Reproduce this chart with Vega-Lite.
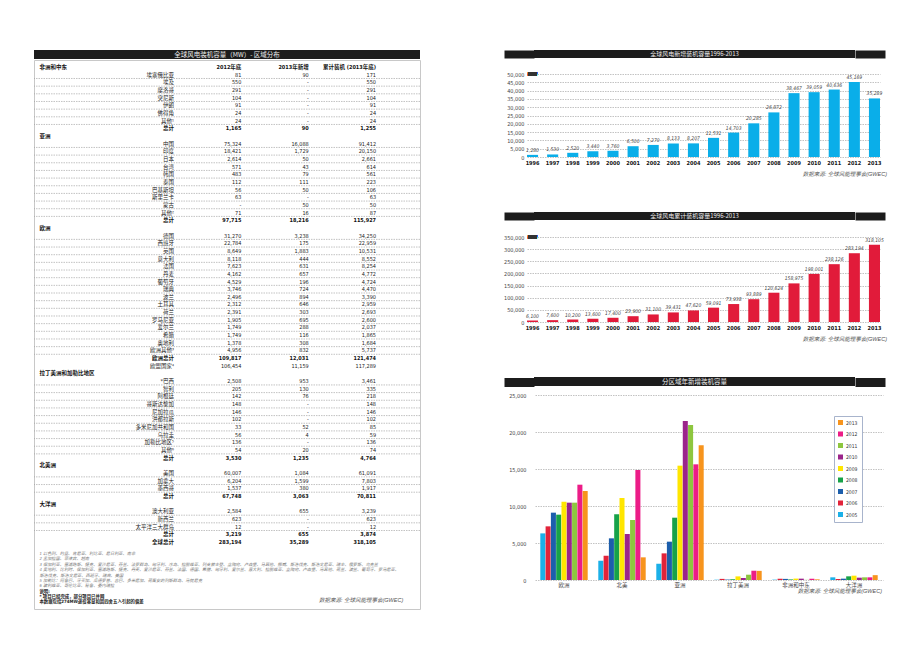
{
  "$schema": "https://vega.github.io/schema/vega-lite/v6.json",
  "padding": {"left": 33, "top": 48, "right": 5, "bottom": 5},
  "background": "#ffffff",
  "config": {
    "view": {"stroke": null},
    "font": "Liberation Sans Narrow, DejaVu Sans Condensed, Liberation Sans, Noto Sans CJK SC, sans-serif",
    "axis": {"labelFont": "Liberation Sans Narrow, DejaVu Sans Condensed, Liberation Sans, Noto Sans CJK SC, sans-serif"},
    "legend": {"labelFont": "Liberation Sans Narrow, DejaVu Sans Condensed, Liberation Sans, Noto Sans CJK SC, sans-serif"},
    "title": {"font": "Liberation Sans Narrow, Liberation Sans, Noto Sans CJK SC, sans-serif"}
  },
  "spacing": 78,
  "hconcat": [
    {
      "spacing": 0,
      "vconcat": [
        {
          "width": 386, "height": 9,
          "view": {"fill": "#1c1c1c", "stroke": null},
          "data": {"values": [{"t": "全球风电装机容量（MW）- 区域分布", "m": 0.5}]},
          "mark": {"type": "text", "color": "#ececec", "fontSize": 6.5, "font": "Noto Sans CJK SC"},
          "encoding": {
            "text": {"field": "t", "type": "nominal"},
            "x": {"field": "m", "type": "quantitative", "scale": {"domain": [0, 1]}, "axis": null},
            "y": {"field": "m", "type": "quantitative", "scale": {"domain": [0, 1]}, "axis": null}
          }
        },
        {
          "width": 386, "height": 549,
          "view": {"stroke": "#c8c8c8", "strokeWidth": 1},
          "title": {"text": "数据来源: 全球风能理事会(GWEC)", "orient": "bottom", "anchor": "end", "baseline": "middle", "offset": -9.5, "dx": -17, "fontSize": 5.5, "fontStyle": "italic", "fontWeight": "normal", "color": "#555555"},
          "layer": [
            {
              "data": {"values": [
                {"r": 1, "k": "h", "a": "2012年底", "b": "2013年新增", "v": "累计装机 (2013年底)"},
                {"r": 1, "k": "g", "g": "非洲和中东"},
                {"r": 2, "k": "c", "n": "埃塞俄比亚", "a": "81", "b": "90", "v": "171"},
                {"r": 3, "k": "c", "n": "埃及", "a": "550", "b": "-", "v": "550"},
                {"r": 4, "k": "c", "n": "摩洛哥", "a": "291", "b": "-", "v": "291"},
                {"r": 5, "k": "c", "n": "突尼斯", "a": "104", "b": "-", "v": "104"},
                {"r": 6, "k": "c", "n": "伊朗", "a": "91", "b": "-", "v": "91"},
                {"r": 7, "k": "c", "n": "佛得角", "a": "24", "b": "-", "v": "24"},
                {"r": 8, "k": "c", "n": "其他¹", "a": "24", "b": "-", "v": "24"},
                {"r": 9, "k": "t", "n": "总计", "a": "1,165", "b": "90", "v": "1,255"},
                {"r": 10, "k": "g", "g": "亚洲"},
                {"r": 11, "k": "c", "n": "中国", "a": "75,324", "b": "16,088", "v": "91,412"},
                {"r": 12, "k": "c", "n": "印度", "a": "18,421", "b": "1,729", "v": "20,150"},
                {"r": 13, "k": "c", "n": "日本", "a": "2,614", "b": "50", "v": "2,661"},
                {"r": 14, "k": "c", "n": "台湾", "a": "571", "b": "43", "v": "614"},
                {"r": 15, "k": "c", "n": "韩国", "a": "483", "b": "79", "v": "561"},
                {"r": 16, "k": "c", "n": "泰国", "a": "112", "b": "111", "v": "223"},
                {"r": 17, "k": "c", "n": "巴基斯坦", "a": "56", "b": "50", "v": "106"},
                {"r": 18, "k": "c", "n": "斯里兰卡", "a": "63", "b": "-", "v": "63"},
                {"r": 19, "k": "c", "n": "蒙古", "a": "-", "b": "50", "v": "50"},
                {"r": 20, "k": "c", "n": "其他²", "a": "71", "b": "16", "v": "87"},
                {"r": 21, "k": "t", "n": "总计", "a": "97,715", "b": "18,216", "v": "115,927"},
                {"r": 22, "k": "g", "g": "欧洲"},
                {"r": 23, "k": "c", "n": "德国", "a": "31,270", "b": "3,238", "v": "34,250"},
                {"r": 24, "k": "c", "n": "西班牙", "a": "22,784", "b": "175", "v": "22,959"},
                {"r": 25, "k": "c", "n": "英国", "a": "8,649", "b": "1,883", "v": "10,531"},
                {"r": 26, "k": "c", "n": "意大利", "a": "8,118", "b": "444", "v": "8,552"},
                {"r": 27, "k": "c", "n": "法国", "a": "7,623", "b": "631", "v": "8,254"},
                {"r": 28, "k": "c", "n": "丹麦", "a": "4,162", "b": "657", "v": "4,772"},
                {"r": 29, "k": "c", "n": "葡萄牙", "a": "4,529", "b": "196", "v": "4,724"},
                {"r": 30, "k": "c", "n": "瑞典", "a": "3,746", "b": "724", "v": "4,470"},
                {"r": 31, "k": "c", "n": "波兰", "a": "2,496", "b": "894", "v": "3,390"},
                {"r": 32, "k": "c", "n": "土耳其", "a": "2,312", "b": "646", "v": "2,959"},
                {"r": 33, "k": "c", "n": "荷兰", "a": "2,391", "b": "303", "v": "2,693"},
                {"r": 34, "k": "c", "n": "罗马尼亚", "a": "1,905", "b": "695", "v": "2,600"},
                {"r": 35, "k": "c", "n": "爱尔兰", "a": "1,749", "b": "288", "v": "2,037"},
                {"r": 36, "k": "c", "n": "希腊", "a": "1,749", "b": "116", "v": "1,865"},
                {"r": 37, "k": "c", "n": "奥地利", "a": "1,378", "b": "308", "v": "1,684"},
                {"r": 38, "k": "c", "n": "欧洲其他³", "a": "4,956", "b": "832", "v": "5,737"},
                {"r": 39, "k": "t", "n": "欧洲总计", "a": "109,817", "b": "12,031", "v": "121,474"},
                {"r": 40, "k": "e", "n": "欧盟国家⁴", "a": "106,454", "b": "11,159", "v": "117,289"},
                {"r": 41, "k": "g", "g": "拉丁美洲和加勒比地区"},
                {"r": 42, "k": "c", "n": "*巴西", "a": "2,508", "b": "953", "v": "3,461"},
                {"r": 43, "k": "c", "n": "智利", "a": "205", "b": "130", "v": "335"},
                {"r": 44, "k": "c", "n": "阿根廷", "a": "142", "b": "76", "v": "218"},
                {"r": 45, "k": "c", "n": "哥斯达黎加", "a": "148", "b": "-", "v": "148"},
                {"r": 46, "k": "c", "n": "尼加拉瓜", "a": "146", "b": "-", "v": "146"},
                {"r": 47, "k": "c", "n": "洪都拉斯", "a": "102", "b": "-", "v": "102"},
                {"r": 48, "k": "c", "n": "多米尼加共和国", "a": "33", "b": "52", "v": "85"},
                {"r": 49, "k": "c", "n": "乌拉圭", "a": "56", "b": "4", "v": "59"},
                {"r": 50, "k": "c", "n": "加勒比地区⁵", "a": "136", "b": "-", "v": "136"},
                {"r": 51, "k": "c", "n": "其他⁶", "a": "54", "b": "20", "v": "74"},
                {"r": 52, "k": "t", "n": "总计", "a": "3,530", "b": "1,235", "v": "4,764"},
                {"r": 53, "k": "g", "g": "北美洲"},
                {"r": 54, "k": "c", "n": "美国", "a": "60,007", "b": "1,084", "v": "61,091"},
                {"r": 55, "k": "c", "n": "加拿大", "a": "6,204", "b": "1,599", "v": "7,803"},
                {"r": 56, "k": "c", "n": "墨西哥", "a": "1,537", "b": "380", "v": "1,917"},
                {"r": 57, "k": "t", "n": "总计", "a": "67,748", "b": "3,063", "v": "70,811"},
                {"r": 58, "k": "g", "g": "大洋洲"},
                {"r": 59, "k": "c", "n": "澳大利亚", "a": "2,584", "b": "655", "v": "3,239"},
                {"r": 60, "k": "c", "n": "新西兰", "a": "623", "b": "-", "v": "623"},
                {"r": 61, "k": "c", "n": "太平洋三大群岛", "a": "12", "b": "-", "v": "12"},
                {"r": 62, "k": "t", "n": "总计", "a": "3,219", "b": "655", "v": "3,874"},
                {"r": 63, "k": "t", "n": "全球总计", "a": "283,194", "b": "35,289", "v": "318,105"}
              ]},
              "layer": [
                {
                  "transform": [{"filter": "datum.k == 'c'"}],
                  "mark": {"type": "rule", "color": "#9a9a9a", "strokeWidth": 0.6, "strokeDash": [1.5, 1]},
                  "encoding": {
                    "y": {"field": "r", "type": "ordinal", "bandPosition": 1, "axis": null,
                      "scale": {"type": "band", "domain": [1,2,3,4,5,6,7,8,9,10,11,12,13,14,15,16,17,18,19,20,21,22,23,24,25,26,27,28,29,30,31,32,33,34,35,36,37,38,39,40,41,42,43,44,45,46,47,48,49,50,51,52,53,54,55,56,57,58,59,60,61,62,63,64,65,66,67,68,69,70,71], "paddingInner": 0, "paddingOuter": 0.33, "align": 0.627}}
                  }
                },
                {
                  "transform": [{"filter": "datum.k == 'c' || datum.k == 'e'"}, {"fold": ["n", "a", "b", "v"], "as": ["col", "txt"]}],
                  "mark": {"type": "text", "align": "right", "fontSize": 5.5, "color": "#222222"},
                  "encoding": {
                    "x": {"field": "col", "type": "nominal", "axis": null, "scale": {"type": "point", "domain": ["g", "_", "n", "a", "b", "v"], "padding": 0.3665, "align": 0.109}},
                    "y": {"field": "r", "type": "ordinal", "axis": null},
                    "text": {"field": "txt", "type": "nominal"}
                  }
                },
                {
                  "transform": [{"filter": "datum.k == 't' || datum.k == 'h'"}, {"fold": ["n", "a", "b", "v"], "as": ["col", "txt"]}, {"filter": "isValid(datum.txt)"}],
                  "mark": {"type": "text", "align": "right", "fontSize": 5.5, "fontWeight": "bold", "color": "#111111"},
                  "encoding": {
                    "x": {"field": "col", "type": "nominal", "axis": null},
                    "y": {"field": "r", "type": "ordinal", "axis": null},
                    "text": {"field": "txt", "type": "nominal"}
                  }
                },
                {
                  "transform": [{"filter": "datum.k == 'g'"}],
                  "mark": {"type": "text", "align": "left", "fontSize": 5.5, "fontWeight": "bold", "color": "#111111"},
                  "encoding": {
                    "x": {"datum": "g", "type": "nominal", "axis": null},
                    "y": {"field": "r", "type": "ordinal", "axis": null},
                    "text": {"field": "g", "type": "nominal"}
                  }
                }
              ]
            },
            {
              "data": {"values": [
                {"f": 1, "s": "i", "t": "1  以色列、约旦、肯尼亚、利比亚、尼日利亚、南非"},
                {"f": 2, "s": "i", "t": "2  孟加拉国、菲律宾、越南"},
                {"f": 3, "s": "i", "t": "3  保加利亚、塞浦路斯、捷克、爱沙尼亚、芬兰、法罗群岛、匈牙利、冰岛、拉脱维亚、列支敦士登、立陶宛、卢森堡、马耳他、挪威、斯洛伐克、斯洛文尼亚、瑞士、俄罗斯、乌克兰"},
                {"f": 4, "s": "i", "t": "4  奥地利、比利时、保加利亚、塞浦路斯、捷克、丹麦、爱沙尼亚、芬兰、法国、德国、希腊、匈牙利、爱尔兰、意大利、拉脱维亚、立陶宛、卢森堡、马耳他、荷兰、波兰、葡萄牙、罗马尼亚、"},
                {"f": 5, "s": "i", "t": "    斯洛伐克、斯洛文尼亚、西班牙、瑞典、英国"},
                {"f": 6, "s": "i", "t": "5  加勒比：阿鲁巴、牙买加、瓜德罗普、古巴、多米尼加、荷属安的列斯群岛、马提尼克"},
                {"f": 7, "s": "i", "t": "6  玻利维亚、哥伦比亚、秘鲁、委内瑞拉"},
                {"f": 8, "s": "b", "t": "说明:"},
                {"f": 9, "s": "b", "t": "*  项目已经完成，部分项目已并网"},
                {"f": 10, "s": "b", "t": "本数据包括274MW退役容量和因四舍五入引起的偏差"}
              ]},
              "layer": [
                {
                  "transform": [{"filter": "datum.s == 'i'"}],
                  "mark": {"type": "text", "align": "left", "fontSize": 4.2, "fontStyle": "italic", "color": "#777777"},
                  "encoding": {
                    "x": {"datum": "g", "type": "nominal", "axis": null},
                    "y": {"field": "f", "type": "quantitative", "axis": null, "scale": {"domain": [-91, 11.23], "reverse": true, "nice": false, "zero": false}},
                    "text": {"field": "t", "type": "nominal"}
                  }
                },
                {
                  "transform": [{"filter": "datum.s == 'b'"}],
                  "mark": {"type": "text", "align": "left", "fontSize": 4.4, "fontWeight": "bold", "color": "#222222"},
                  "encoding": {
                    "x": {"datum": "g", "type": "nominal", "axis": null},
                    "y": {"field": "f", "type": "quantitative", "axis": null},
                    "text": {"field": "t", "type": "nominal"}
                  }
                }
              ]
            }
          ],
          "resolve": {"scale": {"y": "independent"}}
        }
      ]
    },
    {
      "spacing": 33,
      "vconcat": [
        {
          "spacing": 33,
          "vconcat": [
            {
              "spacing": 13,
              "vconcat": [
                {
                  "width": 321, "height": 8,
                  "view": {"fill": "#1c1c1c", "stroke": null},
                  "data": {"values": [{"t": "全球风电新增装机容量1996-2013", "m": 0.5}]},
                  "layer": [
                    {"mark": {"type": "text", "color": "#ececec", "fontSize": 6, "font": "Noto Sans CJK SC"},
                     "encoding": {"text": {"field": "t", "type": "nominal"},
                       "x": {"field": "m", "type": "quantitative", "scale": {"domain": [0, 1]}, "axis": null},
                       "y": {"field": "m", "type": "quantitative", "scale": {"domain": [0, 1]}, "axis": {"orient": "left", "values": [0.5], "tickSize": 30, "tickWidth": 8, "tickColor": "#1c1c1c", "labels": false, "domain": false, "grid": false, "title": null, "minExtent": 0}}}},
                    {"mark": {"type": "text", "opacity": 0},
                     "encoding": {"text": {"field": "t", "type": "nominal"},
                       "x": {"field": "m", "type": "quantitative", "axis": null},
                       "y": {"field": "m", "type": "quantitative", "axis": {"orient": "right", "values": [0.5], "tickSize": 30, "tickWidth": 8, "tickColor": "#1c1c1c", "labels": false, "domain": false, "grid": false, "title": null, "minExtent": 0}}}}
                  ],
                  "resolve": {"axis": {"y": "independent"}}
                },
                {
                  "width": 347, "height": 83,
                  "data": {"values": [
                    {"yr": "1996", "v": 1280}, {"yr": "1997", "v": 1530}, {"yr": "1998", "v": 2520}, {"yr": "1999", "v": 3440},
                    {"yr": "2000", "v": 3760}, {"yr": "2001", "v": 6500}, {"yr": "2002", "v": 7270}, {"yr": "2003", "v": 8133},
                    {"yr": "2004", "v": 8207}, {"yr": "2005", "v": 11531}, {"yr": "2006", "v": 14703}, {"yr": "2007", "v": 20285},
                    {"yr": "2008", "v": 26872}, {"yr": "2009", "v": 38467}, {"yr": "2010", "v": 39059}, {"yr": "2011", "v": 40636},
                    {"yr": "2012", "v": 45169}, {"yr": "2013", "v": 35289}
                  ]},
                  "title": {"text": "数据来源: 全球风能理事会(GWEC)", "orient": "bottom", "anchor": "end", "offset": 6, "fontSize": 5.5, "fontStyle": "italic", "fontWeight": "normal", "color": "#555555"},
                  "encoding": {
                    "x": {"field": "yr", "type": "ordinal", "scale": {"rangeMin": -7, "rangeMax": 346, "paddingInner": 0.45, "paddingOuter": 0},
                      "axis": {"title": null, "labelAngle": 0, "labelFontSize": 5.5, "labelFontWeight": "bold", "labelColor": "#111111", "ticks": false, "domain": false, "labelPadding": 3}},
                    "y": {"field": "v", "type": "quantitative", "scale": {"domain": [0, 50000]},
                      "axis": {"title": null, "values": [0, 5000, 10000, 15000, 20000, 25000, 30000, 35000, 40000, 45000, 50000], "format": ",d", "labelFontSize": 5.5, "labelColor": "#444444", "ticks": false, "domain": false, "labelPadding": 10, "gridColor": "#9a9a9a", "gridDash": [1.5, 1], "gridWidth": 0.6}}
                  },
                  "layer": [
                    {"mark": {"type": "bar", "color": "#0aaee9"}},
                    {"mark": {"type": "text", "baseline": "bottom", "dy": -2, "fontSize": 5, "fontStyle": "italic", "color": "#444444"},
                     "encoding": {"text": {"field": "v", "type": "quantitative", "format": ",d"}}},
                    {"mark": {"type": "text", "text": "MW", "fontWeight": "bold", "fontSize": 5, "color": "#333333"},
                     "encoding": {"x": {"datum": "1996", "type": "ordinal"}, "y": {"datum": 50000, "type": "quantitative"}}}
                  ]
                }
              ]
            },
            {
              "spacing": 14,
              "vconcat": [
                {
                  "width": 321, "height": 8,
                  "view": {"fill": "#1c1c1c", "stroke": null},
                  "data": {"values": [{"t": "全球风电累计装机容量1996-2013", "m": 0.5}]},
                  "layer": [
                    {"mark": {"type": "text", "color": "#ececec", "fontSize": 6, "font": "Noto Sans CJK SC"},
                     "encoding": {"text": {"field": "t", "type": "nominal"},
                       "x": {"field": "m", "type": "quantitative", "scale": {"domain": [0, 1]}, "axis": null},
                       "y": {"field": "m", "type": "quantitative", "scale": {"domain": [0, 1]}, "axis": {"orient": "left", "values": [0.5], "tickSize": 30, "tickWidth": 8, "tickColor": "#1c1c1c", "labels": false, "domain": false, "grid": false, "title": null, "minExtent": 0}}}},
                    {"mark": {"type": "text", "opacity": 0},
                     "encoding": {"text": {"field": "t", "type": "nominal"},
                       "x": {"field": "m", "type": "quantitative", "axis": null},
                       "y": {"field": "m", "type": "quantitative", "axis": {"orient": "right", "values": [0.5], "tickSize": 30, "tickWidth": 8, "tickColor": "#1c1c1c", "labels": false, "domain": false, "grid": false, "title": null, "minExtent": 0}}}}
                  ],
                  "resolve": {"axis": {"y": "independent"}}
                },
                {
                  "width": 347, "height": 85,
                  "data": {"values": [
                    {"yr": "1996", "v": 6100}, {"yr": "1997", "v": 7600}, {"yr": "1998", "v": 10200}, {"yr": "1999", "v": 13600},
                    {"yr": "2000", "v": 17400}, {"yr": "2001", "v": 23900}, {"yr": "2002", "v": 31100}, {"yr": "2003", "v": 39431},
                    {"yr": "2004", "v": 47620}, {"yr": "2005", "v": 59091}, {"yr": "2006", "v": 73938}, {"yr": "2007", "v": 93889},
                    {"yr": "2008", "v": 120624}, {"yr": "2009", "v": 158975}, {"yr": "2010", "v": 198001}, {"yr": "2011", "v": 238126},
                    {"yr": "2012", "v": 283194}, {"yr": "2013", "v": 318105}
                  ]},
                  "title": {"text": "数据来源: 全球风能理事会(GWEC)", "orient": "bottom", "anchor": "end", "offset": 6, "fontSize": 5.5, "fontStyle": "italic", "fontWeight": "normal", "color": "#555555"},
                  "encoding": {
                    "x": {"field": "yr", "type": "ordinal", "scale": {"rangeMin": -7, "rangeMax": 346, "paddingInner": 0.45, "paddingOuter": 0},
                      "axis": {"title": null, "labelAngle": 0, "labelFontSize": 5.5, "labelFontWeight": "bold", "labelColor": "#111111", "ticks": false, "domain": false, "labelPadding": 3}},
                    "y": {"field": "v", "type": "quantitative", "scale": {"domain": [0, 350000]},
                      "axis": {"title": null, "values": [0, 50000, 100000, 150000, 200000, 250000, 300000, 350000], "format": ",d", "labelFontSize": 5.5, "labelColor": "#444444", "ticks": false, "domain": false, "labelPadding": 10, "gridColor": "#9a9a9a", "gridDash": [1.5, 1], "gridWidth": 0.6}}
                  },
                  "layer": [
                    {"mark": {"type": "bar", "color": "#e11b3a"}},
                    {"mark": {"type": "text", "baseline": "bottom", "dy": -2, "fontSize": 5, "fontStyle": "italic", "color": "#444444"},
                     "encoding": {"text": {"field": "v", "type": "quantitative", "format": ",d"}}},
                    {"mark": {"type": "text", "text": "MW", "fontWeight": "bold", "fontSize": 5, "color": "#333333"},
                     "encoding": {"x": {"datum": "1996", "type": "ordinal"}, "y": {"datum": 350000, "type": "quantitative"}}}
                  ]
                }
              ]
            }
          ]
        },
        {
          "spacing": 6,
          "vconcat": [
            {
              "width": 321, "height": 9,
              "view": {"fill": "#1c1c1c", "stroke": null},
              "data": {"values": [{"t": "分区域年新增装机容量", "m": 0.5}]},
              "layer": [
                {"mark": {"type": "text", "color": "#ececec", "fontSize": 6.5, "font": "Noto Sans CJK SC"},
                 "encoding": {"text": {"field": "t", "type": "nominal"},
                   "x": {"field": "m", "type": "quantitative", "scale": {"domain": [0, 1]}, "axis": null},
                   "y": {"field": "m", "type": "quantitative", "scale": {"domain": [0, 1]}, "axis": {"orient": "left", "values": [0.5], "tickSize": 30, "tickWidth": 9, "tickColor": "#1c1c1c", "labels": false, "domain": false, "grid": false, "title": null, "minExtent": 0}}}},
                {"mark": {"type": "text", "opacity": 0},
                 "encoding": {"text": {"field": "t", "type": "nominal"},
                   "x": {"field": "m", "type": "quantitative", "axis": null},
                   "y": {"field": "m", "type": "quantitative", "axis": {"orient": "right", "values": [0.5], "tickSize": 30, "tickWidth": 9, "tickColor": "#1c1c1c", "labels": false, "domain": false, "grid": false, "title": null, "minExtent": 0}}}}
              ],
              "resolve": {"axis": {"y": "independent"}}
            },
            {
              "width": 347, "height": 185,
              "data": {"values": [
                {"reg": "欧洲", "yr": "2005", "v": 6300}, {"reg": "欧洲", "yr": "2006", "v": 7250}, {"reg": "欧洲", "yr": "2007", "v": 9100},
                {"reg": "欧洲", "yr": "2008", "v": 8830}, {"reg": "欧洲", "yr": "2009", "v": 10590}, {"reg": "欧洲", "yr": "2010", "v": 10450},
                {"reg": "欧洲", "yr": "2011", "v": 10450}, {"reg": "欧洲", "yr": "2012", "v": 12880}, {"reg": "欧洲", "yr": "2013", "v": 12031},
                {"reg": "北美", "yr": "2005", "v": 2610}, {"reg": "北美", "yr": "2006", "v": 3290}, {"reg": "北美", "yr": "2007", "v": 5630},
                {"reg": "北美", "yr": "2008", "v": 8880}, {"reg": "北美", "yr": "2009", "v": 11080}, {"reg": "北美", "yr": "2010", "v": 6220},
                {"reg": "北美", "yr": "2011", "v": 8110}, {"reg": "北美", "yr": "2012", "v": 14870}, {"reg": "北美", "yr": "2013", "v": 3063},
                {"reg": "亚洲", "yr": "2005", "v": 2210}, {"reg": "亚洲", "yr": "2006", "v": 3600}, {"reg": "亚洲", "yr": "2007", "v": 5180},
                {"reg": "亚洲", "yr": "2008", "v": 8420}, {"reg": "亚洲", "yr": "2009", "v": 15450}, {"reg": "亚洲", "yr": "2010", "v": 21490},
                {"reg": "亚洲", "yr": "2011", "v": 20950}, {"reg": "亚洲", "yr": "2012", "v": 15630}, {"reg": "亚洲", "yr": "2013", "v": 18216},
                {"reg": "拉丁美洲", "yr": "2005", "v": 40}, {"reg": "拉丁美洲", "yr": "2006", "v": 150}, {"reg": "拉丁美洲", "yr": "2007", "v": 60},
                {"reg": "拉丁美洲", "yr": "2008", "v": 100}, {"reg": "拉丁美洲", "yr": "2009", "v": 490}, {"reg": "拉丁美洲", "yr": "2010", "v": 270},
                {"reg": "拉丁美洲", "yr": "2011", "v": 715}, {"reg": "拉丁美洲", "yr": "2012", "v": 1255}, {"reg": "拉丁美洲", "yr": "2013", "v": 1235},
                {"reg": "非洲和中东", "yr": "2005", "v": 50}, {"reg": "非洲和中东", "yr": "2006", "v": 170}, {"reg": "非洲和中东", "yr": "2007", "v": 150},
                {"reg": "非洲和中东", "yr": "2008", "v": 80}, {"reg": "非洲和中东", "yr": "2009", "v": 190}, {"reg": "非洲和中东", "yr": "2010", "v": 180},
                {"reg": "非洲和中东", "yr": "2011", "v": 20}, {"reg": "非洲和中东", "yr": "2012", "v": 170}, {"reg": "非洲和中东", "yr": "2013", "v": 90},
                {"reg": "大洋洲", "yr": "2005", "v": 360}, {"reg": "大洋洲", "yr": "2006", "v": 135}, {"reg": "大洋洲", "yr": "2007", "v": 180},
                {"reg": "大洋洲", "yr": "2008", "v": 495}, {"reg": "大洋洲", "yr": "2009", "v": 585}, {"reg": "大洋洲", "yr": "2010", "v": 315},
                {"reg": "大洋洲", "yr": "2011", "v": 360}, {"reg": "大洋洲", "yr": "2012", "v": 360}, {"reg": "大洋洲", "yr": "2013", "v": 655}
              ]},
              "title": {"text": "数据来源: 全球风能理事会(GWEC)", "orient": "bottom", "anchor": "end", "offset": 1, "fontSize": 5.5, "fontStyle": "italic", "fontWeight": "normal", "color": "#555555"},
              "mark": {"type": "bar"},
              "encoding": {
                "x": {"field": "reg", "type": "nominal", "sort": ["欧洲", "北美", "亚洲", "拉丁美洲", "非洲和中东", "大洋洲"],
                  "scale": {"rangeMin": 1, "rangeMax": 349, "paddingInner": 0, "paddingOuter": 0},
                  "axis": {"title": null, "labelAngle": 0, "labelFontSize": 5.5, "labelColor": "#444444", "ticks": false, "domain": false, "labelPadding": 2}},
                "xOffset": {"field": "yr", "type": "nominal", "sort": "ascending", "scale": {"paddingInner": 0.05, "paddingOuter": 1}},
                "y": {"field": "v", "type": "quantitative", "scale": {"domain": [0, 25000]},
                  "axis": {"title": null, "values": [0, 5000, 10000, 15000, 20000, 25000], "format": ",d", "labelFontSize": 5.5, "labelColor": "#444444", "ticks": false, "domain": false, "labelPadding": 8, "gridColor": "#9a9a9a", "gridDash": [1.5, 1], "gridWidth": 0.6}},
                "color": {"field": "yr", "type": "nominal",
                  "scale": {"domain": ["2013", "2012", "2011", "2010", "2009", "2008", "2007", "2006", "2005"],
                            "range": ["#f7941d", "#ec1c87", "#8dc63f", "#9b248b", "#ffe600", "#17a249", "#1c5eac", "#e2233a", "#1bb0e8"]},
                  "legend": {"orient": "none", "legendX": 800, "legendY": 366, "title": null, "symbolType": "square", "symbolSize": 25, "symbolStrokeWidth": 0, "labelFontSize": 5, "labelColor": "#333333", "rowPadding": 5.5, "padding": 4, "strokeColor": "#a8b4cc", "fillColor": "#ffffff", "labelOffset": 3}}
              }
            }
          ]
        }
      ]
    }
  ]
}
